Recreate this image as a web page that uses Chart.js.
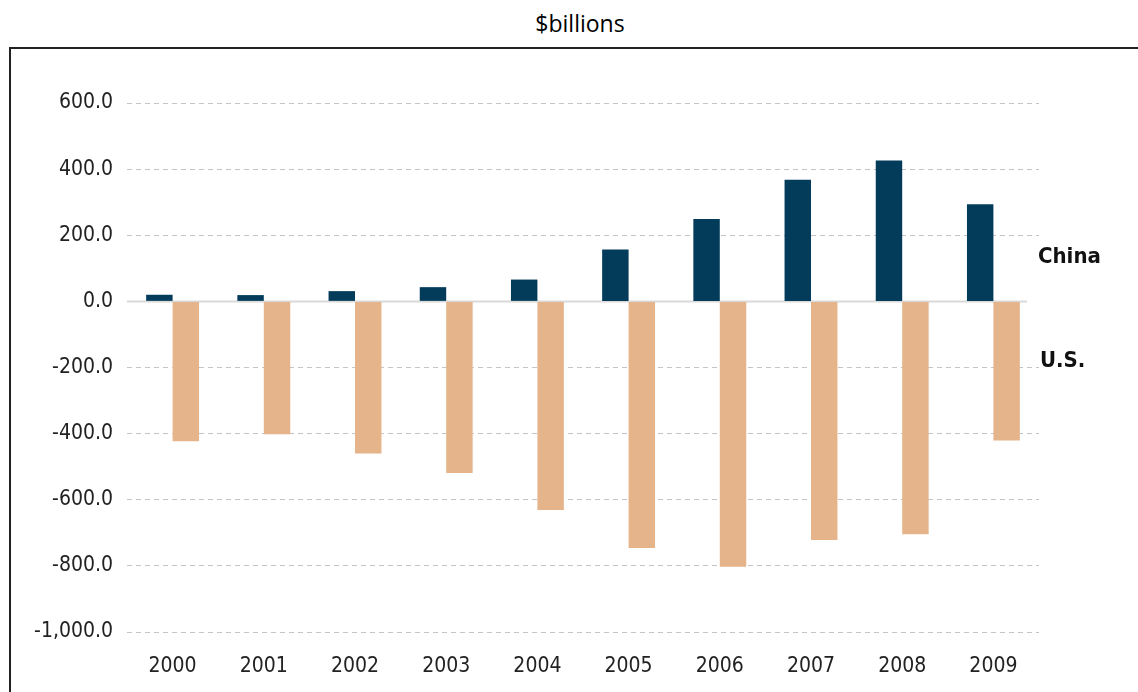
<!DOCTYPE html>
<html>
<head>
<meta charset="utf-8">
<script src="https://cdn.jsdelivr.net/npm/chart.js@4.4.1/dist/chart.umd.min.js"></script>
<style>
  html, body { margin: 0; padding: 0; background: #fff; }
  body { width: 1138px; height: 692px; position: relative; overflow: hidden;
         font-family: "Liberation Sans Narrow", "DejaVu Sans Condensed", sans-serif; }
  #title { position: absolute; left: 0; top: 7px; width: 1160px; text-align: center;
           font-family: "Open Sans", sans-serif; font-size: 23px; color: #000; }
  #box { position: absolute; left: 9px; top: 47px; width: 1200px; height: 700px;
         border-left: 2px solid #222; border-top: 2px solid #222; }
  #wrap { position: absolute; left: 0; top: 0; width: 1138px; height: 692px; }
  .lab { position: absolute; font-weight: bold; font-size: 22px; color: #111; }
</style>
</head>
<body>
<div id="title">$billions</div>
<div id="box"></div>
<div id="wrap"><canvas id="canvas" width="1138" height="692"></canvas></div>
<div class="lab" style="left:1038px; top:243px;">China</div>
<div class="lab" style="left:1040px; top:347px;">U.S.</div>
<script>
var years = ["2000", "2001", "2002", "2003", "2004", "2005", "2006", "2007", "2008", "2009"];
var chinaValues = [20, 19, 31, 43, 66, 157, 249, 368, 426, 294];
var usValues = [-423, -402, -460, -519, -631, -746, -803, -722, -704, -421];
var yTicks = [600, 400, 200, 0, -200, -400, -600, -800, -1000];

// solid light zero line, the other grid lines stay dashed
var zeroLine = {
    id: "zeroLine",
    beforeDatasetsDraw: function (chart) {
        var ctx = chart.ctx;
        var y = chart.scales.y.getPixelForValue(0);
        ctx.save();
        ctx.strokeStyle = "#d9d9d9";
        ctx.lineWidth = 2;
        ctx.beginPath();
        ctx.moveTo(chart.chartArea.left, y);
        ctx.lineTo(chart.chartArea.right - 12, y);
        ctx.stroke();
        ctx.restore();
    }
};

window.onload = function () {
    var ctx = document.getElementById("canvas").getContext("2d");
    window.myBar = new Chart(ctx, {
        type: "bar",
        data: {
            labels: years,
            datasets: [
                { label: "China", data: chinaValues, backgroundColor: "#033c5a" },
                { label: "U.S.", data: usValues, backgroundColor: "#e6b48a" }
            ]
        },
        options: {
            responsive: false,
            animation: false,
            layout: { padding: { top: 103, right: 99, bottom: 0, left: 0 } },
            datasets: { bar: { categoryPercentage: 0.58, barPercentage: 1.0 } },
            plugins: { legend: { display: false }, tooltip: { enabled: false } },
            scales: {
                x: {
                    grid: { display: false },
                    border: { display: false },
                    ticks: { color: "#222", padding: 14, font: { family: "Liberation Sans Narrow, DejaVu Sans Condensed", size: 21 } },
                    afterFit: function (s) { s.height = 60; }
                },
                y: {
                    min: -1000,
                    max: 600,
                    afterBuildTicks: function (s) { s.ticks = yTicks.map(function (v) { return { value: v }; }); },
                    afterFit: function (s) { s.width = 127; },
                    grid: {
                        drawTicks: false,
                        color: function (c) { return c.tick && c.tick.value === 0 ? "rgba(0,0,0,0)" : "#c4c4c4"; },
                        lineWidth: 1
                    },
                    border: { display: false, dash: [5, 4] },
                    ticks: {
                        color: "#222",
                        padding: 14,
                        font: { family: "Liberation Sans Narrow, DejaVu Sans Condensed", size: 21 },
                        callback: function (v) {
                            return v.toLocaleString("en-US", { minimumFractionDigits: 1, maximumFractionDigits: 1 });
                        }
                    }
                }
            }
        },
        plugins: [zeroLine]
    });
};
</script>
</body>
</html>
